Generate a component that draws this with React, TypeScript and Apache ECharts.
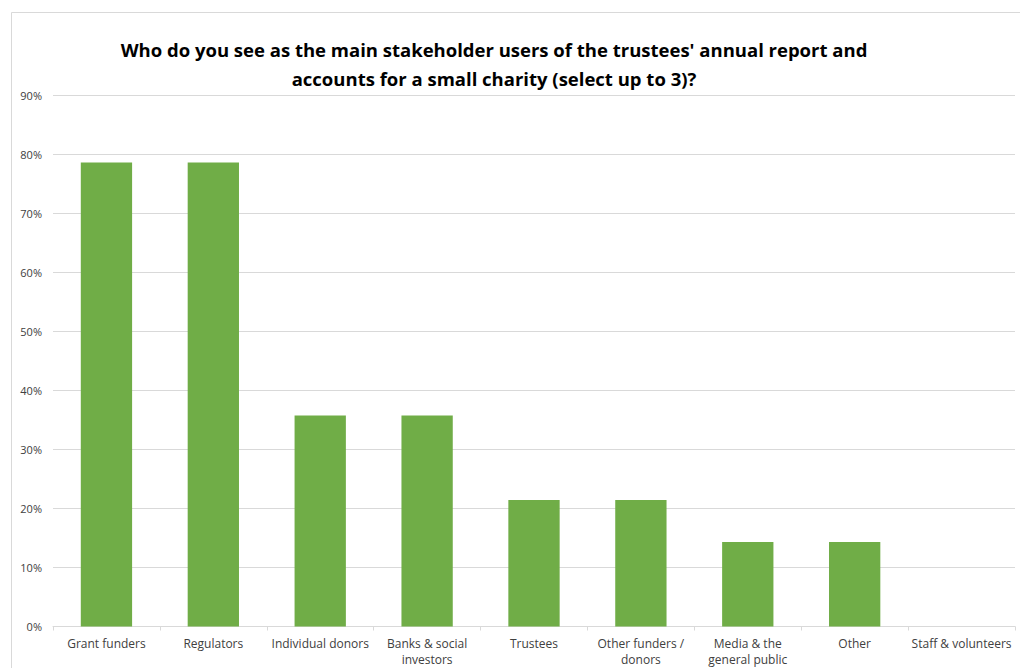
import React, { useEffect, useRef } from "react";
import * as echarts from "echarts";

const titleText =
  "Who do you see as the main stakeholder users of the trustees' annual report and\naccounts for a small charity (select up to 3)?";

const categories = [
  "Grant funders",
  "Regulators",
  "Individual donors",
  "Banks & social\ninvestors",
  "Trustees",
  "Other funders /\ndonors",
  "Media & the\ngeneral public",
  "Other",
  "Staff & volunteers",
];

const values = [78.57, 78.57, 35.71, 35.71, 21.43, 21.43, 14.29, 14.29, 0];

const yMin = 0;
const yMax = 90;
const yInterval = 10;

export default function App() {
  const ref = useRef<HTMLDivElement>(null);

  useEffect(() => {
    if (!ref.current) return;
    const chart = echarts.init(ref.current, undefined, { renderer: "svg" });
    chart.setOption({
      animation: false,
      backgroundColor: "#ffffff",
      title: {
        text: titleText,
        left: 489,
        top: 29.5,
        textAlign: "center",
        textStyle: {
          fontFamily: "Open Sans",
          fontWeight: "bold",
          fontSize: 18.5,
          color: "#000000",
          lineHeight: 29,
          align: "center",
        },
      },
      graphic: [
        {
          type: "rect",
          shape: { x: 11.5, y: 12.5, width: 1020, height: 700 },
          style: { fill: "none", stroke: "#d9d9d9", lineWidth: 1 },
          silent: true,
        },
      ],
      grid: {
        left: 53,
        right: 5,
        top: 95,
        bottom: 41.5,
        containLabel: false,
        outerBoundsMode: "none",
      },
      xAxis: {
        type: "category",
        data: categories,
        axisLine: { show: true, lineStyle: { color: "#d9d9d9", width: 1 } },
        axisTick: { show: true, alignWithLabel: false, length: 4, lineStyle: { color: "#d9d9d9" } },
        axisLabel: {
          interval: 0,
          color: "#404040",
          fontFamily: "Open Sans",
          fontSize: 12,
          lineHeight: 16,
          margin: 9,
        },
      },
      yAxis: {
        type: "value",
        min: yMin,
        max: yMax,
        interval: yInterval,
        axisLine: { show: false },
        axisTick: { show: false },
        splitLine: { lineStyle: { color: "#d9d9d9", width: 1 } },
        axisLabel: {
          formatter: "{value}%",
          color: "#404040",
          fontFamily: "Open Sans",
          fontSize: 11,
          margin: 11,
        },
      },
      series: [
        {
          type: "bar",
          data: values,
          barWidth: "48%",
          itemStyle: { color: "#70ad47" },
        },
      ],
    });
    return () => chart.dispose();
  }, []);

  return (
    <div
      ref={ref}
      style={{ position: "fixed", left: 0, top: 0, width: 1020, height: 668 }}
    />
  );
}
